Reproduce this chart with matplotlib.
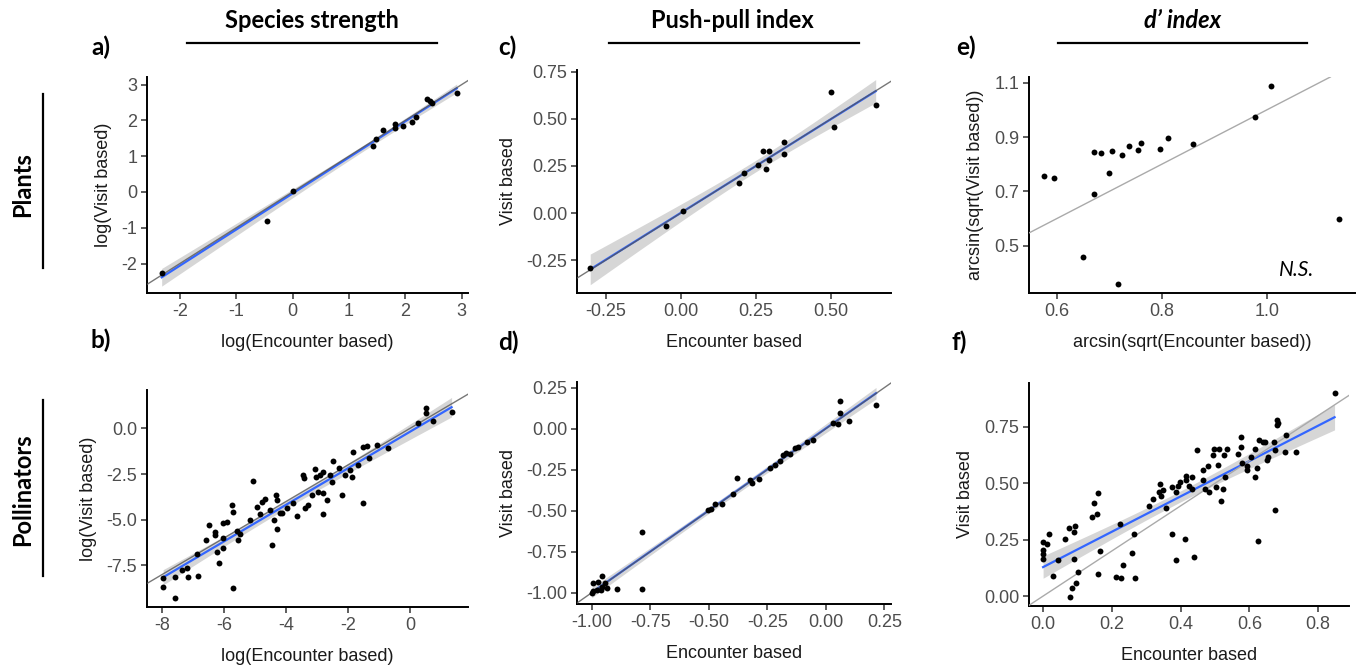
import numpy as np
import matplotlib.pyplot as plt
from matplotlib.lines import Line2D
from matplotlib.ticker import FormatStrFormatter

# ---- data ----
# a) species strength, plants
a_x = [-2.32, -0.46, 0.01, 1.42, 1.48, 1.61, 1.81, 1.81, 1.95, 2.11, 2.19, 2.38, 2.43, 2.48, 2.91]
a_y = [-2.25, -0.80, 0.04, 1.27, 1.47, 1.73, 1.89, 1.78, 1.84, 1.94, 2.09, 2.59, 2.54, 2.48, 2.76]

# b) species strength, pollinators
b_x = [-7.97, -7.96, -7.59, -7.59, -7.19, -7.18, -6.86, -5.70, -6.18, -6.24, -6.03, -6.05,
       -6.59, -6.30, -6.48, -6.30, -6.03, -5.90, -5.76, -5.70, -5.54, -5.49, -5.17, -5.08,
       -4.93, -4.79, -4.69, -4.84, -4.52, -4.33, -4.31, -4.44, -4.31, -4.39, -4.20, -4.12,
       -3.96, -3.77, -3.64, -3.39, -3.28, -3.44, -3.42, -3.18, -3.07, -3.02, -2.91, -2.82,
       -2.96, -2.80, -2.80, -2.69, -2.58, -2.53, -2.50, -2.28, -2.21, -2.10, -1.94, -1.88,
       -1.85, -1.67, -1.53, -1.51, -1.40, -1.32, -1.08, -0.70, 0.26, 0.51, 0.53, 0.75, 1.34,
       -7.37, -6.89, -5.57]
b_y = [-8.18, -8.71, -9.31, -8.16, -7.66, -8.12, -8.07, -8.76, -7.39, -6.75, -6.57, -6.02,
       -6.11, -5.84, -5.29, -5.66, -5.20, -5.11, -4.20, -4.56, -6.11, -5.80, -5.02, -2.87,
       -4.29, -4.02, -3.89, -4.71, -4.47, -3.65, -3.92, -6.39, -5.51, -5.02, -4.65, -4.65,
       -4.34, -4.11, -4.80, -4.38, -4.20, -2.56, -2.74, -3.65, -2.25, -2.65, -2.56, -2.41,
       -3.47, -3.56, -4.71, -3.92, -2.56, -2.92, -1.79, -2.19, -3.65, -2.56, -2.28, -2.65,
       -1.31, -2.01, -4.07, -1.04, -0.97, -1.61, -0.91, -1.10, 0.27, 1.09, 0.82, 0.40, 0.91,
       -7.75, -6.90, -5.62]

# c) push-pull index, plants
c_x = [-0.302, -0.048, 0.006, 0.194, 0.209, 0.257, 0.275, 0.295, 0.282, 0.295, 0.342, 0.342,
       0.500, 0.510, 0.649]
c_y = [-0.294, -0.070, 0.009, 0.157, 0.213, 0.257, 0.329, 0.329, 0.233, 0.280, 0.376, 0.311,
       0.643, 0.458, 0.575]

# d) push-pull index, pollinators
d_x = [-1.000, -0.993, -0.996, -0.972, -0.958, -0.962, -0.943, -0.933, -0.979, -0.958, -0.891,
       -0.787, -0.786, -0.503, -0.489, -0.474, -0.442, -0.396, -0.379, -0.325, -0.314, -0.285,
       -0.240, -0.219, -0.198, -0.183, -0.169, -0.152, -0.134, -0.119, -0.081, -0.055, 0.030,
       0.051, 0.061, 0.061, 0.098, 0.214]
d_y = [-1.000, -0.988, -0.943, -0.933, -0.899, -0.984, -0.939, -0.974, -0.984, -0.966, -0.980,
       -0.980, -0.633, -0.497, -0.487, -0.460, -0.460, -0.399, -0.304, -0.314, -0.330, -0.310,
       -0.243, -0.223, -0.196, -0.162, -0.148, -0.156, -0.121, -0.111, -0.081, -0.071, 0.035,
       0.031, 0.168, 0.097, 0.046, 0.142]

# e) d' index, plants (arcsin-sqrt scale)
e_x = [0.576, 0.594, 0.650, 0.670, 0.670, 0.684, 0.700, 0.706, 0.716, 0.724, 0.737, 0.754,
       0.761, 0.796, 0.811, 0.860, 0.978, 1.008, 1.138]
e_y = [0.758, 0.750, 0.457, 0.844, 0.690, 0.841, 0.769, 0.848, 0.358, 0.834, 0.868, 0.851,
       0.877, 0.856, 0.898, 0.873, 0.975, 1.089, 0.599]

# f) d' index, pollinators
f_x = [0.000, 0.000, 0.000, 0.000, 0.012, 0.017, 0.029, 0.043, 0.063, 0.076, 0.092, 0.089,
       0.089, 0.078, 0.085, 0.095, 0.102, 0.141, 0.148, 0.157, 0.160, 0.165, 0.160, 0.212,
       0.228, 0.233, 0.225, 0.260, 0.264, 0.267, 0.308, 0.320, 0.337, 0.339, 0.344, 0.349,
       0.357, 0.376, 0.374, 0.386, 0.388, 0.393, 0.398, 0.412, 0.415, 0.417, 0.425, 0.432,
       0.432, 0.438, 0.448, 0.465, 0.465, 0.470, 0.480, 0.483, 0.494, 0.496, 0.508, 0.503,
       0.512, 0.519, 0.523, 0.525, 0.535, 0.528, 0.567, 0.577, 0.577, 0.580, 0.592, 0.594,
       0.606, 0.616, 0.616, 0.621, 0.626, 0.629, 0.639, 0.645, 0.650, 0.655, 0.671, 0.674,
       0.674, 0.681, 0.681, 0.684, 0.703, 0.708, 0.737, 0.848]
f_y = [0.241, 0.203, 0.188, 0.166, 0.233, 0.277, 0.090, 0.160, 0.255, 0.300, 0.310, 0.285,
       0.166, -0.003, 0.034, 0.056, 0.108, 0.351, 0.413, 0.366, 0.455, 0.199, 0.096, 0.083,
       0.078, 0.137, 0.319, 0.192, 0.275, 0.081, 0.398, 0.429, 0.460, 0.499, 0.443, 0.470,
       0.390, 0.275, 0.484, 0.160, 0.462, 0.487, 0.506, 0.251, 0.514, 0.532, 0.487, 0.529,
       0.473, 0.174, 0.646, 0.514, 0.558, 0.476, 0.575, 0.462, 0.624, 0.654, 0.580, 0.484,
       0.654, 0.420, 0.473, 0.624, 0.654, 0.529, 0.632, 0.706, 0.661, 0.590, 0.575, 0.558,
       0.617, 0.654, 0.529, 0.570, 0.243, 0.691, 0.684, 0.684, 0.605, 0.617, 0.684, 0.650,
       0.381, 0.779, 0.757, 0.768, 0.639, 0.713, 0.639, 0.899]

plt.rcParams["font.family"] = "Liberation Sans"

W, H = 1356, 665
fig = plt.figure(figsize=(W / 100, H / 100), dpi=100)
fig.patch.set_facecolor("white")


def px(x, y):
    return x / W, 1 - y / H


def box(l, t, r, b):
    return [l / W, 1 - b / H, (r - l) / W, (b - t) / H]


def fit_band(x, y, t):
    x = np.asarray(x)
    y = np.asarray(y)
    n = len(x)
    b1, b0 = np.polyfit(x, y, 1)
    xs = np.linspace(x.min(), x.max(), 100)
    yh = b0 + b1 * xs
    s = np.sqrt(np.sum((y - (b0 + b1 * x)) ** 2) / (n - 2))
    se = s * np.sqrt(1 / n + (xs - x.mean()) ** 2 / np.sum((x - x.mean()) ** 2))
    return xs, yh, yh - t * se, yh + t * se


def panel(rect, x, y, xlim, ylim, xticks, yticks, xfmt, yfmt, xlabel, ylabel,
          fit=True, tval=2.0, one_color="#555555", one_alpha=0.8, ylpad=7):
    ax = fig.add_axes(rect)
    if fit:
        xs, yh, lo, hi = fit_band(x, y, tval)
        ax.fill_between(xs, lo, hi, color="#999999", alpha=0.4, lw=0, zorder=1)
        ax.plot(xs, yh, color="#3366FF", lw=1.6, zorder=2)
    ax.axline((0, 0), slope=1, color=one_color, lw=1.0, alpha=one_alpha, zorder=3)
    ax.scatter(x, y, s=18, color="black", lw=0, zorder=4)
    ax.set_xlim(xlim)
    ax.set_ylim(ylim)
    ax.set_xticks(xticks)
    ax.set_yticks(yticks)
    ax.xaxis.set_major_formatter(FormatStrFormatter(xfmt))
    ax.yaxis.set_major_formatter(FormatStrFormatter(yfmt))
    for side in ["top", "right"]:
        ax.spines[side].set_visible(False)
    for side in ["left", "bottom"]:
        ax.spines[side].set_linewidth(1.4)
    ax.tick_params(length=4, width=1.1, color="#333333", labelsize=13,
                   labelcolor="#4D4D4D", pad=3)
    ax.set_xlabel(xlabel, fontsize=13, color="#1a1a1a", labelpad=10)
    ax.set_ylabel(ylabel, fontsize=13, color="#1a1a1a", labelpad=ylpad)
    return ax


panel(box(147, 77, 468, 293), a_x, a_y, (-2.58, 3.11), (-2.82, 3.21),
      [-2, -1, 0, 1, 2, 3], [-2, -1, 0, 1, 2, 3], "%d", "%d",
      "log(Encounter based)", "log(Visit based)", tval=2.16)
panel(box(147, 390, 468, 607), b_x, b_y, (-8.49, 1.87), (-9.78, 2.10),
      [-8, -6, -4, -2, 0], [-7.5, -5.0, -2.5, 0.0], "%d", "%.1f",
      "log(Encounter based)", "log(Visit based)", tval=1.99)
panel(box(577, 70, 891, 293), c_x, c_y, (-0.346, 0.70), (-0.425, 0.76),
      [-0.25, 0, 0.25, 0.5], [-0.25, 0, 0.25, 0.5, 0.75], "%.2f", "%.2f",
      "Encounter based", "Visit based", tval=2.16)
panel(box(577, 382, 891, 604), d_x, d_y, (-1.063, 0.278), (-1.069, 0.284),
      [-1, -0.75, -0.5, -0.25, 0, 0.25], [-1, -0.75, -0.5, -0.25, 0, 0.25], "%.2f", "%.2f",
      "Encounter based", "Visit based", tval=2.03)
ax_e = panel(box(1029, 77, 1355, 293), e_x, e_y, (0.547, 1.168), (0.326, 1.121),
             [0.6, 0.8, 1.0], [0.5, 0.7, 0.9, 1.1], "%.1f", "%.1f",
             "arcsin(sqrt(Encounter based))", "arcsin(sqrt(Visit based))",
             fit=False, one_color="#AAAAAA", one_alpha=1.0)
ax_e.text(1.09, 0.41, "N.S.", fontsize=15, style="italic", family="Lato",
          ha="right", va="center")
panel(box(1029, 383, 1349, 606), f_x, f_y, (-0.041, 0.89), (-0.044, 0.945),
      [0, 0.2, 0.4, 0.6, 0.8], [0, 0.25, 0.5, 0.75], "%.1f", "%.2f",
      "Encounter based", "Visit based", tval=1.99,
      one_color="#AAAAAA", one_alpha=1.0)

# column headers with rules underneath
heads = [("Species strength", 312, 187, 437, "normal"),
         ("Push-pull index", 732, 609, 859, "normal"),
         ("d\u2019 index", 1183, 1058, 1307, "italic")]
for label, cx, x0, x1, st in heads:
    fig.text(*px(cx, 20), label, fontsize=17, fontweight="bold", style=st,
             family="Lato", ha="center", va="center")
    fig.add_artist(Line2D([x0 / W, x1 / W], [1 - 43 / H, 1 - 43 / H],
                          color="black", lw=1.6, transform=fig.transFigure))

# row labels with vertical rules
rows = [("Plants", 185, 94, 268), ("Pollinators", 490, 400, 576)]
for label, cy, y0, y1 in rows:
    fig.text(*px(23, cy), label, fontsize=17, fontweight="bold", family="Lato",
             rotation=90, ha="center", va="center")
    fig.add_artist(Line2D([43 / W, 43 / W], [1 - y0 / H, 1 - y1 / H],
                          color="black", lw=1.6, transform=fig.transFigure))

# panel letters
letters = [("a)", 91, 47), ("b)", 91, 340), ("c)", 498, 47),
           ("d)", 498, 342), ("e)", 956, 47), ("f)", 952, 342)]
for lab, lx, ly in letters:
    fig.text(*px(lx, ly), lab, fontsize=17.5, fontweight="bold", family="Lato",
             ha="left", va="center")

plt.savefig("out.png", dpi=100)
